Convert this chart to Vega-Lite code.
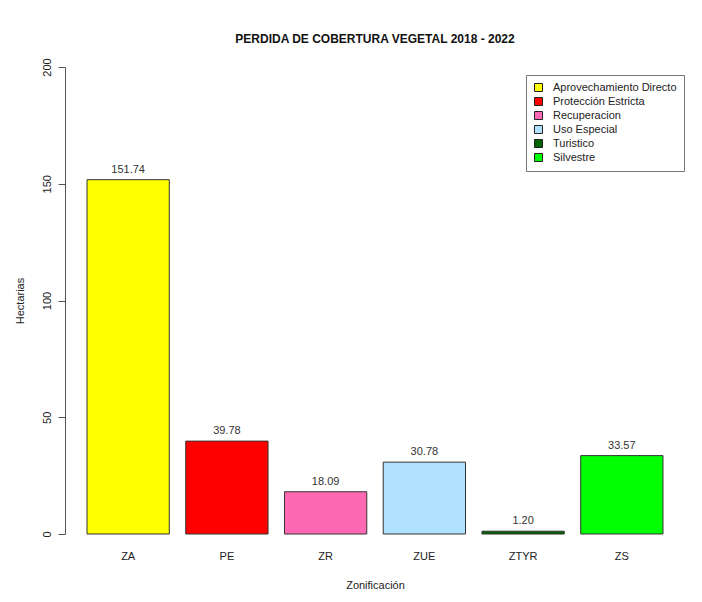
{
  "$schema": "https://vega.github.io/schema/vega-lite/v6.json",
  "autosize": {"type": "none"},
  "width": 620,
  "height": 467,
  "padding": {"left": 65, "top": 67, "right": 17, "bottom": 68},
  "background": "white",
  "config": {
    "font": "Liberation Sans",
    "view": {"stroke": null}
  },
  "title": {
    "text": "PERDIDA DE COBERTURA VEGETAL 2018 - 2022",
    "fontSize": 12,
    "fontWeight": "bold",
    "color": "#111",
    "anchor": "middle",
    "offset": 12
  },
  "data": {
    "values": [
      {"zona": "ZA", "nombre": "Aprovechamiento Directo", "hectareas": 151.74, "etiqueta": "151.74"},
      {"zona": "PE", "nombre": "Protección Estricta", "hectareas": 39.78, "etiqueta": "39.78"},
      {"zona": "ZR", "nombre": "Recuperacion", "hectareas": 18.09, "etiqueta": "18.09"},
      {"zona": "ZUE", "nombre": "Uso Especial", "hectareas": 30.78, "etiqueta": "30.78"},
      {"zona": "ZTYR", "nombre": "Turistico", "hectareas": 1.2, "etiqueta": "1.20"},
      {"zona": "ZS", "nombre": "Silvestre", "hectareas": 33.57, "etiqueta": "33.57"}
    ]
  },
  "encoding": {
    "x": {
      "field": "zona",
      "type": "nominal",
      "sort": null,
      "scale": {"paddingInner": 0.1667, "paddingOuter": 0.223},
      "axis": {
        "title": "Zonificación",
        "titleFontSize": 11,
        "titleFontWeight": "normal",
        "titleColor": "#222",
        "titlePadding": 18,
        "labelAngle": 0,
        "labelFontSize": 11,
        "labelColor": "#222",
        "labelPadding": 16,
        "domain": false,
        "ticks": false,
        "tickSize": 0,
        "grid": false
      }
    },
    "y": {
      "field": "hectareas",
      "type": "quantitative",
      "scale": {"domain": [0, 200], "nice": false},
      "axis": {
        "title": "Hectarias",
        "titleFontSize": 11,
        "titleFontWeight": "normal",
        "titleColor": "#222",
        "titlePadding": 16,
        "values": [0, 50, 100, 150, 200],
        "labelAngle": 270,
        "labelAlign": "center",
        "labelBaseline": "bottom",
        "labelFontSize": 11,
        "labelColor": "#222",
        "labelPadding": 6,
        "tickSize": 7,
        "tickColor": "#555",
        "domainColor": "#555",
        "grid": false
      }
    }
  },
  "layer": [
    {
      "mark": {"type": "bar", "stroke": "#333", "strokeWidth": 1},
      "encoding": {
        "fill": {
          "field": "nombre",
          "type": "nominal",
          "sort": null,
          "scale": {
            "domain": ["Aprovechamiento Directo", "Protección Estricta", "Recuperacion", "Uso Especial", "Turistico", "Silvestre"],
            "range": ["#ffff00", "#ff0000", "#ff69b4", "#b0e2ff", "#006400", "#00ff00"]
          },
          "legend": {
            "title": null,
            "orient": "none",
            "legendX": 461,
            "legendY": 8,
            "strokeColor": "#777",
            "fillColor": "white",
            "padding": 7,
            "symbolType": "square",
            "symbolSize": 64,
            "symbolStrokeColor": "#222",
            "symbolStrokeWidth": 1,
            "labelFontSize": 11,
            "labelColor": "#222",
            "labelOffset": 9,
            "rowPadding": 1
          }
        }
      }
    },
    {
      "mark": {"type": "text", "baseline": "middle", "dy": -10, "fontSize": 11, "color": "#333"},
      "encoding": {
        "text": {"field": "etiqueta", "type": "nominal"}
      }
    }
  ]
}
